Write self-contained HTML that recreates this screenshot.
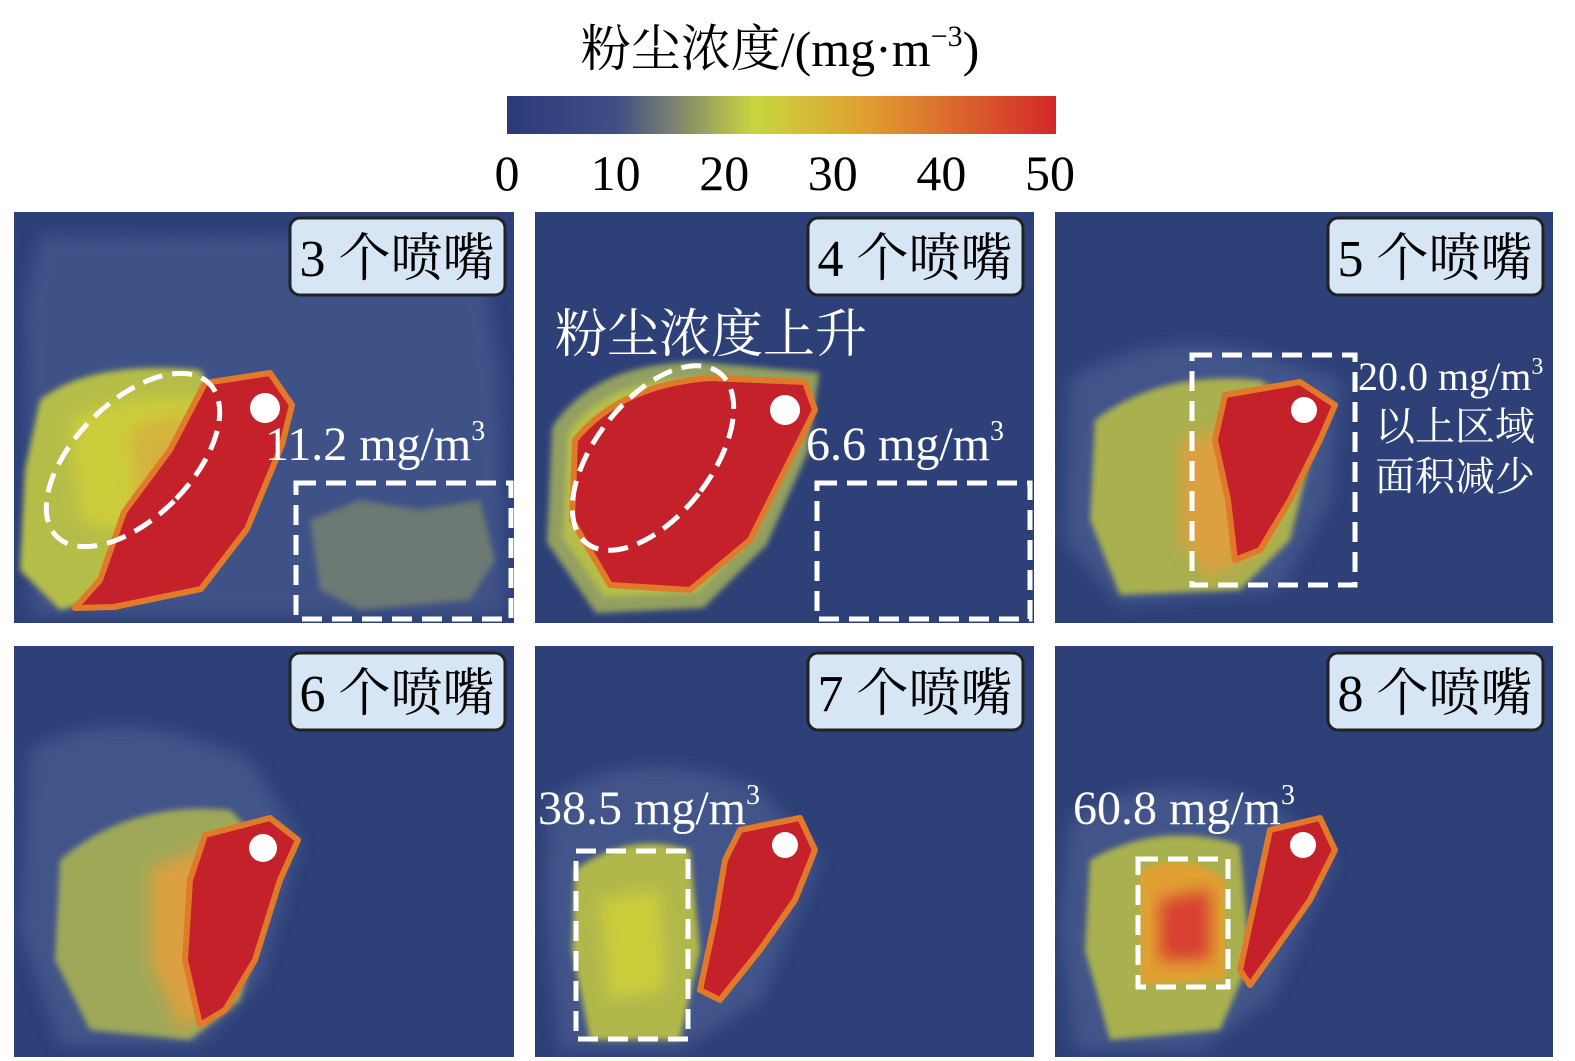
<!DOCTYPE html>
<html><head><meta charset="utf-8"><style>
html,body{margin:0;padding:0;background:#fff;overflow:hidden;}
svg{display:block;}
text{font-family:"Liberation Serif","Noto Serif CJK SC",serif;}
</style></head><body>
<svg id="fig" width="1575" height="1061" viewBox="0 0 1575 1061" xmlns="http://www.w3.org/2000/svg">
<defs>
<linearGradient id="cmap" x1="0" x2="1" y1="0" y2="0">
<stop offset="0" stop-color="#2b3a7a"/><stop offset="0.2" stop-color="#3f4f85"/>
<stop offset="0.3" stop-color="#7a8070"/><stop offset="0.45" stop-color="#c8d640"/>
<stop offset="0.65" stop-color="#e0a030"/><stop offset="1" stop-color="#d42828"/>
</linearGradient>
<filter id="bl" x="-20%" y="-20%" width="140%" height="140%"><feGaussianBlur stdDeviation="8"/></filter>
<filter id="bl2" x="-20%" y="-20%" width="140%" height="140%"><feGaussianBlur stdDeviation="3"/></filter>
<clipPath id="c1"><rect x="14" y="212" width="500" height="411"/></clipPath>
<clipPath id="c2"><rect x="535" y="212" width="499" height="411"/></clipPath>
<clipPath id="c3"><rect x="1055" y="212" width="498" height="411"/></clipPath>
<clipPath id="c4"><rect x="14" y="646" width="500" height="411"/></clipPath>
<clipPath id="c5"><rect x="535" y="646" width="499" height="411"/></clipPath>
<clipPath id="c6"><rect x="1055" y="646" width="498" height="411"/></clipPath>
</defs>
<text x="780" y="66" font-size="50" text-anchor="middle">粉尘浓度/(mg·m<tspan font-size="30" dy="-20">−3</tspan><tspan dy="20">)</tspan></text>
<rect x="507" y="96" width="549" height="38" fill="url(#cmap)"/>
<g id="cbticks"></g>

<!-- Panel 1 -->
<g clip-path="url(#c1)">
<rect x="14" y="212" width="500" height="411" fill="#2d4078"/>
<path d="M40,235 L480,240 L500,380 L505,615 L30,615 L25,300Z" fill="#43558a" filter="url(#bl)" opacity="0.9"/>
<path d="M310,520 L360,500 L420,510 L480,500 L495,560 L470,600 L360,610 L320,590Z" fill="#7f8a6c" filter="url(#bl2)" opacity="0.7"/>
<path d="M40,400 Q90,360 200,370 L230,420 L200,520 L140,590 L60,610 L20,570 L25,470Z" fill="#b5bd48" filter="url(#bl2)"/>
<path d="M70,420 Q130,390 200,400 L210,470 L150,540 L80,520Z" fill="#cccd3a" filter="url(#bl)"/>
<path d="M130,430 Q170,410 200,420 L190,500 L140,520Z" fill="#d8a840" filter="url(#bl)" opacity="0.7"/>
<path d="M205,383 L270,373 L292,405 L282,445 L247,529 L201,589 L114,607 L75,608 L100,580 L124,512 L170,450Z" fill="#c4212a" stroke="#e07a2a" stroke-width="6" stroke-linejoin="round"/>
</g>
<!-- Panel 2 -->
<g clip-path="url(#c2)">
<rect x="535" y="212" width="499" height="411" fill="#2d4078"/>
<path d="M560,430 Q600,370 700,370 L810,380 L800,450 L760,540 L700,600 L600,605 L555,540Z" fill="#b5bd48" stroke="#93a060" stroke-width="16" filter="url(#bl2)"/>
<path d="M575,440 Q620,385 710,378 L805,382 L815,410 L790,460 L750,540 L690,590 L610,585 L572,520Z" fill="#c4212a" stroke="#e07a2a" stroke-width="6" stroke-linejoin="round"/>
</g>
<!-- Panel 3 -->
<g clip-path="url(#c3)">
<rect x="1055" y="212" width="498" height="411" fill="#2d4078"/>
<path d="M1070,380 Q1150,330 1250,350 L1340,380 L1330,500 L1280,590 L1120,605 L1065,540Z" fill="#43558a" filter="url(#bl)"/>
<path d="M1095,420 Q1160,370 1260,380 L1320,420 L1290,540 L1240,590 L1120,595 L1090,520Z" fill="#a8b050" filter="url(#bl2)"/>
<path d="M1180,440 L1260,420 L1270,540 L1210,580 L1180,540Z" fill="#dca040" filter="url(#bl)"/>
<path d="M1225,395 L1300,382 L1335,405 L1320,440 L1290,500 L1260,550 L1235,560 L1228,500 L1215,440Z" fill="#c4212a" stroke="#e07a2a" stroke-width="6" stroke-linejoin="round"/>
</g>
<!-- Panel 4 -->
<g clip-path="url(#c4)">
<rect x="14" y="646" width="500" height="411" fill="#2d4078"/>
<path d="M30,750 Q120,700 250,760 L300,840 L260,980 L200,1045 L60,1045 L20,930Z" fill="#43558a" filter="url(#bl)"/>
<path d="M60,860 Q130,800 230,810 L280,860 L240,1000 L190,1040 L90,1030 L55,960Z" fill="#9ea858" filter="url(#bl2)"/>
<path d="M150,870 L220,840 L230,1000 L180,1030 L150,960Z" fill="#dca040" filter="url(#bl)"/>
<path d="M205,835 L270,818 L298,840 L280,880 L255,960 L225,1010 L200,1025 L185,960 L190,880Z" fill="#c4212a" stroke="#e07a2a" stroke-width="6" stroke-linejoin="round"/>
</g>
<!-- Panel 5 -->
<g clip-path="url(#c5)">
<rect x="535" y="646" width="499" height="411" fill="#2d4078"/>
<path d="M550,800 Q640,740 760,790 L820,860 L760,1000 L680,1050 L560,1050 L545,900Z" fill="#43558a" filter="url(#bl)"/>
<path d="M575,870 Q630,830 690,850 L700,950 L680,1040 L590,1040 L572,950Z" fill="#b0b84c" filter="url(#bl2)"/>
<path d="M600,900 L660,890 L665,990 L610,1000Z" fill="#cccd3a" filter="url(#bl)"/>
<path d="M740,830 L800,818 L815,850 L795,900 L760,950 L720,1000 L700,990 L715,920 L725,860Z" fill="#c4212a" stroke="#e07a2a" stroke-width="6" stroke-linejoin="round"/>
</g>
<!-- Panel 6 -->
<g clip-path="url(#c6)">
<rect x="1055" y="646" width="498" height="411" fill="#2d4078"/>
<path d="M1070,820 Q1160,760 1280,810 L1335,860 L1270,1000 L1200,1050 L1075,1050 L1060,930Z" fill="#43558a" filter="url(#bl)"/>
<path d="M1090,860 Q1160,820 1240,845 L1250,960 L1220,1030 L1110,1040 L1085,950Z" fill="#a8b050" filter="url(#bl2)"/>
<path d="M1140,870 Q1190,850 1225,880 L1225,980 L1140,985Z" fill="#e0a030" filter="url(#bl2)"/>
<path d="M1160,900 L1210,890 L1210,960 L1160,960Z" fill="#d84030" filter="url(#bl)"/>
<path d="M1270,830 L1320,818 L1335,850 L1310,900 L1275,950 L1250,985 L1240,970 L1255,900Z" fill="#c4212a" stroke="#e07a2a" stroke-width="6" stroke-linejoin="round"/>
</g>

<!-- Nozzle dots -->
<g fill="#fff">
<circle cx="265" cy="408" r="15"/>
<circle cx="785" cy="410" r="15"/>
<circle cx="1304" cy="410" r="13"/>
<circle cx="263" cy="848" r="14"/>
<circle cx="785" cy="845" r="13"/>
<circle cx="1303" cy="845" r="13"/>
</g>

<!-- Dashed annotations -->
<g fill="none" stroke="#fff" stroke-width="5" stroke-dasharray="20,10">
<ellipse cx="133" cy="460" rx="58" ry="108" transform="rotate(45 133 460)"/>
<ellipse cx="653" cy="458" rx="58" ry="108" transform="rotate(38 653 458)"/>
<rect x="296" y="483" width="215" height="136"/>
<rect x="817" y="483" width="213" height="136"/>
<rect x="1192" y="355" width="163" height="230"/>
<rect x="576" y="851" width="112" height="188"/>
<rect x="1138" y="859" width="90" height="128"/>
</g>

<!-- Annotation texts -->
<g fill="#fff">
<text x="265" y="460" font-size="48">11.2 mg/m<tspan font-size="28" dy="-20">3</tspan></text>
<text x="806" y="460" font-size="48">6.6 mg/m<tspan font-size="28" dy="-20">3</tspan></text>
<text x="555" y="352" font-size="52">粉尘浓度上升</text>
<text x="1358" y="390" font-size="40">20.0 mg/m<tspan font-size="24" dy="-16">3</tspan></text>
<text x="1375" y="440" font-size="40">以上区域</text>
<text x="1375" y="490" font-size="40">面积减少</text>
<text x="538" y="824" font-size="48">38.5 mg/m<tspan font-size="28" dy="-20">3</tspan></text>
<text x="1073" y="824" font-size="48">60.8 mg/m<tspan font-size="28" dy="-20">3</tspan></text>
</g>

<!-- Panel labels -->
<g id="labels"></g>
</svg>
<script>
const tickValues = [0, 10, 20, 30, 40, 50];
const tickLabels = ["0", "10", "20", "30", "40", "50"];
const panelNames = ["3 个喷嘴", "4 个喷嘴", "5 个喷嘴", "6 个喷嘴", "7 个喷嘴", "8 个喷嘴"];
const NS = "http://www.w3.org/2000/svg";
const cbX0 = 507, cbX1 = 1050, vmin = 0, vmax = 50;
function xScale(v){ return cbX0 + (v - vmin) / (vmax - vmin) * (cbX1 - cbX0); }
const tg = document.getElementById('cbticks');
tickValues.forEach((v, i) => {
  const t = document.createElementNS(NS, 'text');
  t.setAttribute('x', xScale(v));
  t.setAttribute('y', 190);
  t.setAttribute('font-size', 50);
  t.setAttribute('text-anchor', 'middle');
  t.textContent = tickLabels[i];
  
  
  tg.appendChild(t);
});
const boxX = [290, 808, 1328, 290, 808, 1328];
const boxY = [218, 218, 218, 653, 653, 653];
const lg = document.getElementById('labels');
panelNames.forEach((name, i) => {
  const g = document.createElementNS(NS, 'g');
  
  
  const r = document.createElementNS(NS, 'rect');
  r.setAttribute('x', boxX[i]); r.setAttribute('y', boxY[i]);
  r.setAttribute('width', 215); r.setAttribute('height', 77);
  r.setAttribute('rx', 10);
  r.setAttribute('fill', '#d6e6f4'); r.setAttribute('stroke', '#222'); r.setAttribute('stroke-width', 3);
  g.appendChild(r);
  const t = document.createElementNS(NS, 'text');
  t.setAttribute('x', boxX[i] + 107); t.setAttribute('y', boxY[i] + 58);
  t.setAttribute('font-size', 52); t.setAttribute('text-anchor', 'middle');
  t.textContent = name;
  g.appendChild(t);
  lg.appendChild(g);
});
</script>
</body></html>
